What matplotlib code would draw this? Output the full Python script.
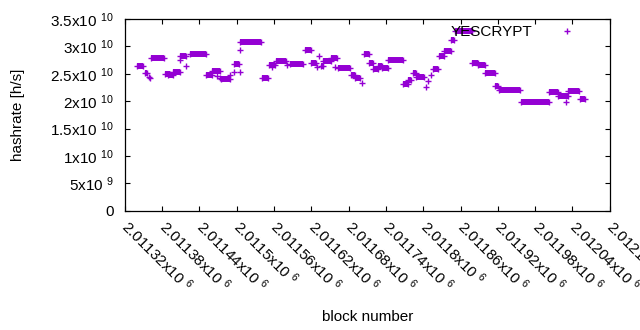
'''
    YESCRYPT hashrate per block
'''
import matplotlib
matplotlib.use('Agg')
import matplotlib.pyplot as plt

# runs of blocks with the same estimated hashrate (first block, last block, rate)
run_start = [2011340, 2011353, 2011362, 2011384, 2011390, 2011398, 2011409, 2011425,
             2011451, 2011461, 2011474, 2011495, 2011506, 2011540, 2011552, 2011564,
             2011586, 2011610, 2011620, 2011635, 2011639, 2011651, 2011663, 2011684,
             2011690, 2011704, 2011712, 2011719, 2011728, 2011733, 2011744, 2011768,
             2011775, 2011783, 2011789, 2011815, 2011826, 2011834, 2011844, 2011851,
             2011878, 2011888, 2011899, 2011916, 2011922, 2011957, 2012003, 2012016,
             2012033, 2012052]
run_end = [2011349, 2011356, 2011383, 2011392, 2011398, 2011408, 2011419, 2011451,
           2011460, 2011473, 2011489, 2011504, 2011539, 2011550, 2011562, 2011579,
           2011606, 2011620, 2011628, 2011639, 2011651, 2011661, 2011683, 2011690,
           2011698, 2011712, 2011719, 2011728, 2011733, 2011744, 2011768, 2011775,
           2011781, 2011789, 2011802, 2011824, 2011834, 2011844, 2011850, 2011878,
           2011888, 2011899, 2011916, 2011921, 2011955, 2012003, 2012016, 2012033,
           2012051, 2012061]
run_rate = [2.64e10, 2.52e10, 2.78e10, 2.50e10, 2.47e10, 2.53e10, 2.83e10, 2.86e10,
            2.47e10, 2.55e10, 2.40e10, 2.68e10, 3.08e10, 2.43e10, 2.66e10, 2.73e10,
            2.68e10, 2.93e10, 2.69e10, 2.64e10, 2.74e10, 2.78e10, 2.60e10, 2.48e10,
            2.42e10, 2.86e10, 2.70e10, 2.59e10, 2.64e10, 2.60e10, 2.76e10, 2.31e10,
            2.39e10, 2.51e10, 2.44e10, 2.59e10, 2.82e10, 2.91e10, 3.12e10, 3.28e10,
            2.69e10, 2.66e10, 2.51e10, 2.28e10, 2.21e10, 1.99e10, 2.17e10, 2.10e10,
            2.18e10, 2.04e10]

# single blocks off the runs
pt_block = [2011359, 2011361, 2011409, 2011419, 2011468, 2011473, 2011489, 2011495,
            2011505, 2011505, 2011556, 2011581, 2011629, 2011633, 2011658, 2011701,
            2011805, 2011807, 2011813, 2012030]
pt_rate = [2.45e10, 2.42e10, 2.75e10, 2.65e10, 2.46e10, 2.42e10, 2.48e10, 2.54e10,
           2.93e10, 2.54e10, 2.62e10, 2.66e10, 2.63e10, 2.82e10, 2.63e10, 2.34e10,
           2.25e10, 2.37e10, 2.48e10, 1.98e10]

x_ticks = [2011320 + 60 * k for k in range(14)]
y_ticks = [0, 5e9, 1e10, 1.5e10, 2e10, 2.5e10, 3e10, 3.5e10]

COLOR = '#9400d3'


def sci_label(val):
    '''gnuplot style mantissa x10^exp label'''
    if val == 0:
        return '0'
    exp = 0
    man = val
    while man >= 10:
        man /= 10
        exp += 1
    return f'{man:g}x10 $^{{{exp}}}$'


def plot_hashrate():
    '''Plotting the hashrate scatter'''
    plt.rcParams['font.family'] = ['Liberation Sans', 'DejaVu Sans']
    plt.rcParams['mathtext.default'] = 'regular'
    plt.rcParams['font.size'] = 11

    fig = plt.figure(figsize=(6.4, 3.3), dpi=100)
    ax = fig.add_axes([0.195, 0.3615, 0.7577, 0.5809])

    ax.hlines(run_rate, run_start, run_end, colors=COLOR, linewidth=4.3,
              capstyle='butt')
    ends_x = run_start + run_end + pt_block
    ends_y = run_rate + run_rate + pt_rate
    ax.plot(ends_x, ends_y, '+', color=COLOR, markersize=4.6, mew=1.0,
            label='YESCRYPT')

    ax.set_xlim(2011320, 2012100)
    ax.set_ylim(0, 3.5e10)
    ax.set_xticks(x_ticks)
    ax.set_xticklabels([sci_label(v) for v in x_ticks], rotation=-45,
                       ha='left', va='center', rotation_mode='anchor')
    ax.set_yticks(y_ticks)
    ax.set_yticklabels([sci_label(v) for v in y_ticks])
    ax.tick_params(direction='in', length=3.5, width=0.8, top=True, right=True,
                   colors='black')
    ax.tick_params(axis='x', pad=9)
    ax.tick_params(axis='y', pad=8)
    for spine in ax.spines.values():
        spine.set_linewidth(0.9)

    ax.set_xlabel('block number')
    ax.set_ylabel('hashrate [h/s]')
    ax.xaxis.set_label_coords(0.5, -0.518)
    ax.yaxis.set_label_coords(-0.206, 0.5)

    ax.legend(loc='center right', bbox_to_anchor=(0.944, 0.932), frameon=False,
              markerfirst=False, handlelength=2, handletextpad=1.3,
              borderpad=0, borderaxespad=0)

    fig.savefig('out.png', dpi=100)


def execute():
    '''Executing all the functions'''
    plot_hashrate()


execute()
